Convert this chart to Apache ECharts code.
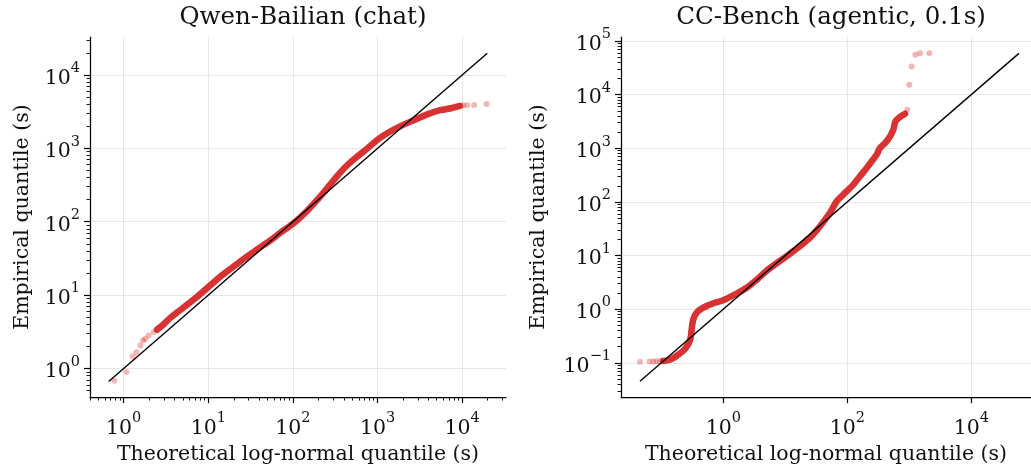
<!DOCTYPE html>
<html><head><meta charset="utf-8">
<script src="https://cdn.jsdelivr.net/npm/echarts@6/dist/echarts.min.js"></script>
<style>html,body{margin:0;padding:0;background:#fff}#c{width:1031px;height:470px}</style>
</head><body><div id="c"></div><script>
// ---- data (seconds) ----
const titles = ['Qwen-Bailian (chat)', 'CC-Bench (agentic, 0.1s)'];
const xName = 'Theoretical log-normal quantile (s)';
const yName = 'Empirical quantile (s)';

// left panel: dense quantile band
const leftBandX = [2.477, 2.951, 3.548, 4.467, 5.623, 7.079, 8.913, 11.22, 14.13, 19.95, 28.18, 39.81, 56.23, 70.79, 89.13, 112.2, 144.5, 177.8, 223.9, 281.8, 354.8, 446.7, 562.3, 707.9, 891.3, 1122, 1413, 1841, 2630, 3802, 5495, 7586, 9397];
const leftBandY = [3.381, 3.981, 4.898, 6.026, 7.413, 9.120, 11.48, 14.45, 18.20, 24.55, 33.11, 43.65, 57.54, 70.79, 85.11, 104.7, 138.0, 177.8, 239.9, 331.1, 457.1, 602.6, 758.6, 933.3, 1175, 1445, 1698, 1995, 2399, 2884, 3311, 3548, 3784];
// left panel: sparse tail points
const leftTailX = [0.776, 1.076, 1.276, 1.413, 1.574, 1.694, 1.803, 1.972, 2.259, 10280, 11460, 13870, 19410];
const leftTailY = [0.681, 0.893, 1.455, 1.667, 2.051, 2.399, 2.529, 2.805, 3.119, 3864, 3880, 3908, 4027];
const leftRef = [0.665, 19800];

// right panel: dense quantile band
const rightBandX = [0.1072, 0.1380, 0.1770, 0.2265, 0.2723, 0.2979, 0.3090, 0.3281, 0.3724, 0.4753, 0.6902, 1.0, 1.449, 2.382, 3.548, 5.321, 10.54, 17.26, 25.00, 36.31, 52.60, 67.45, 86.50, 125.0, 160.3, 205.6, 247.7, 297.2, 336.5, 405.5, 488.7, 552.1, 587.5, 626.6, 753.4, 853.1];
const rightBandY = [0.1084, 0.1143, 0.1355, 0.1679, 0.2234, 0.2979, 0.4246, 0.6516, 0.8670, 1.074, 1.294, 1.469, 1.820, 2.512, 3.631, 5.534, 9.795, 15.03, 21.53, 35.32, 62.66, 103.0, 137.4, 210.4, 300.6, 430.5, 571.5, 760.3, 1014, 1253, 1663, 2218, 3027, 3404, 4036, 4395];
// right panel: sparse tail points
const rightTailX = [0.0453, 0.0646, 0.0743, 0.0843, 0.0955, 929.0, 1000, 1094, 1250, 1489, 2104];
const rightTailY = [0.1050, 0.1059, 0.1059, 0.1067, 0.1072, 5212, 15210, 33270, 55590, 59020, 59020];
const rightRef = [0.0453, 58700];

// tick exponents
const leftXTicks = [0, 1, 2, 3, 4];
const leftYTicks = [0, 1, 2, 3, 4];
const rightXTicks = [0, 2, 4];
const rightYTicks = [-1, 0, 1, 2, 3, 4, 5];

// ---- helpers ----
const FONT = '"DejaVu Serif", serif';
const lg = v => Math.log10(v);
const pairs = (xs, ys) => xs.map((x, i) => [lg(x), lg(ys[i])]);
function minors(lo, hi) {
  const out = [];
  for (let n = Math.floor(lo) - 1; n <= Math.ceil(hi); n++)
    for (let k = 2; k <= 9; k++) { const v = n + Math.log10(k); if (v > lo && v < hi) out.push(v); }
  return out;
}
function fmt(v) { const n = Math.round(v); const s = n < 0 ? '\u2212' + (-n) : String(n); return '{b|10}{s|' + s + '}'; }
const rich = {
  b: { fontFamily: FONT, fontSize: 20.5, color: '#111', verticalAlign: 'bottom', lineHeight: 28 },
  s: { fontFamily: FONT, fontSize: 14.5, color: '#111', verticalAlign: 'top', lineHeight: 14 }
};
const ext = { lx: [-0.398, 4.518], ly: [-0.39, 4.518], rx: [-1.65, 4.963], ry: [-1.638, 5.074] };

function majorAxis(grid, range, ticks, pos, name, gap, margin) {
  return {
    type: 'value', gridIndex: grid, min: range[0], max: range[1], position: pos,
    axisLine: { show: true, onZero: false, lineStyle: { color: '#000', width: 1.25 } },
    axisTick: { show: true, customValues: ticks, length: 6, lineStyle: { color: '#000', width: 1.2 } },
    axisLabel: { show: true, customValues: ticks, formatter: fmt, rich: rich, margin: margin },
    splitLine: { show: true, lineStyle: { color: '#e6e6e6', width: 1 } },
    name: name, nameLocation: 'middle', nameGap: gap,
    nameTextStyle: { fontFamily: FONT, fontSize: 20.5, color: '#111' }
  };
}
function minorAxis(grid, range, pos, show) {
  return {
    type: 'value', gridIndex: grid, min: range[0], max: range[1], position: pos,
    axisLine: { show: false, onZero: false },
    axisTick: { show: show, customValues: show ? minors(range[0], range[1]) : [], length: 3.5, lineStyle: { color: '#000', width: 0.9 } },
    axisLabel: { show: false }, splitLine: { show: false }
  };
}

const bandStyle = { color: 'rgba(214,39,40,0.95)', width: 6.5, cap: 'round', join: 'round' };
function panelSeries(i, bx, by, tx, ty, ref) {
  return [
    { type: 'line', xAxisIndex: i * 2, yAxisIndex: i * 2, data: pairs(bx, by), showSymbol: false, symbol: 'none', smooth: 0.3, lineStyle: bandStyle, z: 2, silent: true },
    { type: 'scatter', xAxisIndex: i * 2, yAxisIndex: i * 2, data: pairs(tx, ty), symbolSize: 6, itemStyle: { color: 'rgba(214,39,40,0.42)' }, z: 2, silent: true },
    { type: 'line', xAxisIndex: i * 2, yAxisIndex: i * 2, data: pairs(ref, ref), showSymbol: false, symbol: 'none', lineStyle: { color: '#000', width: 1.4 }, z: 4, silent: true }
  ];
}

const chart = echarts.init(document.getElementById('c'));
chart.setOption({
  animation: false,
  backgroundColor: '#fff',
  title: [
    { text: titles[0], left: 298, top: 0, textAlign: 'center', textStyle: { fontFamily: FONT, fontSize: 24.5, fontWeight: 'normal', color: '#111' } },
    { text: titles[1], left: 826, top: 0, textAlign: 'center', textStyle: { fontFamily: FONT, fontSize: 24.5, fontWeight: 'normal', color: '#111' } }
  ],
  grid: [
    { left: 90, top: 37, width: 416, height: 361 },
    { left: 621, top: 37, right: 0, height: 361 }
  ],
  xAxis: [
    majorAxis(0, ext.lx, leftXTicks, 'bottom', xName, 45, 14),
    minorAxis(0, ext.lx, 'bottom', true),
    majorAxis(1, ext.rx, rightXTicks, 'bottom', xName, 45, 14),
    minorAxis(1, ext.rx, 'bottom', false)
  ],
  yAxis: [
    majorAxis(0, ext.ly, leftYTicks, 'left', yName, 57, 10),
    minorAxis(0, ext.ly, 'left', true),
    majorAxis(1, ext.ry, rightYTicks, 'left', yName, 72, 10),
    minorAxis(1, ext.ry, 'left', true)
  ],
  series: [].concat(
    panelSeries(0, leftBandX, leftBandY, leftTailX, leftTailY, leftRef),
    panelSeries(1, rightBandX, rightBandY, rightTailX, rightTailY, rightRef)
  )
});
</script></body></html>
